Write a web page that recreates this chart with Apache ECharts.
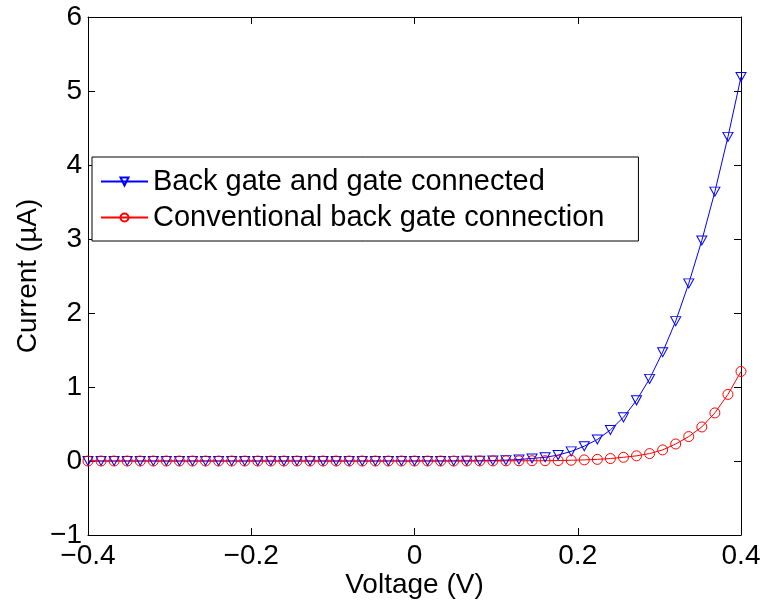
<!DOCTYPE html>
<html><head><meta charset="utf-8">
<script src="https://cdn.jsdelivr.net/npm/echarts@6/dist/echarts.min.js"></script>
<style>html,body{margin:0;padding:0;background:#fff}#c{width:763px;height:600px}</style>
</head><body><div id="c"></div>
<script>
const voltage = [-0.4,-0.384,-0.368,-0.352,-0.336,-0.32,-0.304,-0.288,-0.272,-0.256,-0.24,-0.224,-0.208,-0.192,-0.176,-0.16,-0.144,-0.128,-0.112,-0.096,-0.08,-0.064,-0.048,-0.032,-0.016,0,0.016,0.032,0.048,0.064,0.08,0.096,0.112,0.128,0.144,0.16,0.176,0.192,0.208,0.224,0.24,0.256,0.272,0.288,0.304,0.32,0.336,0.352,0.368,0.384,0.4];
const backGateConnected = [0,0,0,0,0,0,0,0,0,0,0,0,0,0,0,0,0,0,0,0,0,0,0,0,0,0,0.001,0.001,0.002,0.003,0.004,0.007,0.012,0.02,0.035,0.05,0.08,0.13,0.2,0.29,0.42,0.59,0.82,1.11,1.47,1.89,2.4,2.98,3.64,4.38,5.19];
const conventional = [0,0,0,0,0,0,0,0,0,0,0,0,0,0,0,0,0,0,0,0,0,0,0,0,0,0,0,0,0,0,0.001,0.001,0.002,0.003,0.004,0.004,0.006,0.01,0.015,0.022,0.033,0.05,0.07,0.1,0.15,0.23,0.33,0.46,0.65,0.9,1.21];
const xTicks = [-0.4,-0.2,0,0.2,0.4];
const yTicks = [-1,0,1,2,3,4,5,6];

const font = 'Liberation Sans, Arial, Helvetica, sans-serif';
const fmt = v => { const r = Math.round(v*1000)/1000; return r < 0 ? '\u2212' + Math.abs(r) : String(r); };
const chart = echarts.init(document.getElementById('c'));
const axLine = {show:true, onZero:false, lineStyle:{color:'#000', width:1}};
const tick = {show:true, inside:true, length:7, lineStyle:{color:'#000'}};
chart.setOption({
  animation:false,
  backgroundColor:'#fff',
  grid:{left:88, right:22, top:17, bottom:65, containLabel:false, outerBoundsMode:'none'},
  legend:{
    left:92, top:157, orient:'vertical', itemWidth:47, itemHeight:10, itemGap:7,
    padding:[10,34,9,8], backgroundColor:'#fff', borderColor:'#000', borderWidth:1, borderRadius:0,
    textStyle:{fontFamily:font, fontSize:29, color:'#000', lineHeight:28},
    data:['Back gate and gate connected','Conventional back gate connection']
  },
  xAxis:[{
    type:'value', min:xTicks[0], max:xTicks[xTicks.length-1], interval:0.2,
    axisLine:axLine, axisTick:tick, splitLine:{show:false},
    axisLabel:{fontFamily:font, fontSize:28, color:'#000', margin:7, formatter:fmt},
    name:'Voltage (V)', nameLocation:'middle', nameGap:36, nameMoveOverlap:false,
    nameTextStyle:{fontFamily:font, fontSize:28, color:'#000'}
  },{
    type:'value', position:'top', min:xTicks[0], max:xTicks[xTicks.length-1], interval:0.2,
    axisLine:axLine, axisTick:tick, axisLabel:{show:false}, splitLine:{show:false}
  }],
  yAxis:[{
    type:'value', min:yTicks[0], max:yTicks[yTicks.length-1], interval:1,
    axisLine:axLine, axisTick:tick, splitLine:{show:false},
    axisLabel:{fontFamily:font, fontSize:28, color:'#000', margin:6, formatter:fmt},
    name:'Current (\u00b5A)', nameLocation:'middle', nameGap:46, nameRotate:90, nameMoveOverlap:false,
    nameTextStyle:{fontFamily:font, fontSize:28, color:'#000'}
  },{
    type:'value', position:'right', min:yTicks[0], max:yTicks[yTicks.length-1], interval:1,
    axisLine:axLine, axisTick:tick, axisLabel:{show:false}, splitLine:{show:false}
  }],
  series:[{
    name:'Back gate and gate connected', type:'line',
    data: voltage.map((v,i)=>[v, backGateConnected[i]]),
    symbol:'path://M0,0 L10,0 L5,9 Z', symbolSize:[10,9], showAllSymbol:true,
    lineStyle:{color:'#0000ff', width:1},
    itemStyle:{color:'rgba(0,0,0,0)', borderColor:'#0000ff', borderWidth:1},
    emphasis:{disabled:true}
  },{
    name:'Conventional back gate connection', type:'line',
    data: voltage.map((v,i)=>[v, conventional[i]]),
    symbol:'circle', symbolSize:10, showAllSymbol:true,
    lineStyle:{color:'#ff0000', width:1},
    itemStyle:{color:'rgba(0,0,0,0)', borderColor:'#ff0000', borderWidth:1},
    emphasis:{disabled:true}
  }]
});
</script></body></html>
